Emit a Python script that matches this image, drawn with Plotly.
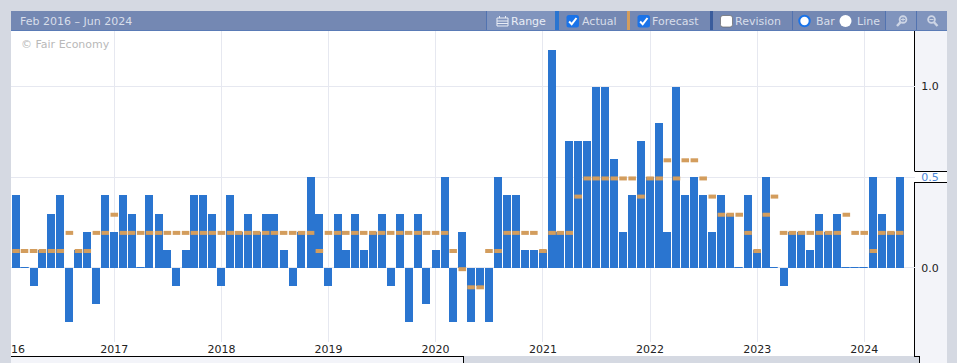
import pandas as pd
import plotly.graph_objects as go

W, H = 957, 363
L, R, T, B = 11, 915, 31, 342

months = [d.strftime("%Y-%m-%d") for d in pd.date_range("2016-02-01", "2024-05-01", freq="MS")]
actual = [
    .4, 0, -.1, .1, .3, .4, -.3, .1, .2, -.2, .4,
    .2, .4, .3, 0, .4, .3, .1, -.1, .1, .4, .4, .3,
    -.1, .4, .2, .3, .2, .3, .3, .1, -.1, .2, .5, .3,
    -.1, .3, .1, .3, .1, .2, .3, -.1, .3, -.3, .3, -.2,
    .1, .5, -.3, .2, -.3, -.1, -.3, .5, .4, .4, .1, .1,
    .1, 1.2, .2, .7, .7, .7, 1.0, 1.0, .6, .2, .4, .7,
    .5, .8, .2, 1.0, .4, .5, .4, .2, .4, .3, 0, .4,
    .1, .5, 0, -.1, .2, .2, .1, .3, .2, .3, 0, 0,
    0, .5, .3, .2, .5,
]
forecast = [
    .1, .1, .1, .1, .1, .1, .2, .1, .1, .2, .2,
    .3, .2, .2, .2, .2, .2, .2, .2, .2, .2, .2, .2,
    .2, .2, .2, .2, .2, .2, .2, .2, .2, .2, .2, .1,
    .2, .2, .2, .2, .2, .2, .2, .2, .2, .2, .2, .2,
    .2, .2, .1, 0, -.1, -.1, .1, .1, .2, .2, .2, .2,
    .1, .2, .2, .2, .4, .5, .5, .5, .5, .5, .5, .4,
    .5, .5, .6, .5, .6, .6, .5, .4, .3, .3, .3, .2,
    .1, .3, .4, .2, .2, .2, .2, .2, .2, .2, .3, .2,
    .2, .1, .2, .2, .2,
]
y_ticks = [0, 0.5, 1.0]
y_labels = ["0.0", '<span style="color:#4a86d8">0.5</span>', "1.0"]

BAR = "#2a75d0"
FC = "#d39d5d"
GRAY = "#d5d9e2"
PANEL = "#f3f4f9"
HEAD = "#7488b3"
HEAD2 = "#8094bd"
SEP = "#5273b0"
TXT = "#d8deea"
ICON = "#cdd5e5"
FONT = "DejaVu Sans"


def px(x):
    return (x - L) / (R - L)


def py(y):
    return (B - y) / (B - T)


shapes = []
annotations = []


def rect(x0, y0, x1, y1, fill, layer="below"):
    shapes.append(dict(type="rect", xref="paper", yref="paper", x0=px(x0), x1=px(x1),
                       y0=py(y1), y1=py(y0), fillcolor=fill, line_width=0, layer=layer))


def line(x0, y0, x1, y1, color="#000000", width=1, layer="below"):
    shapes.append(dict(type="line", xref="paper", yref="paper", x0=px(x0), x1=px(x1),
                       y0=py(y0), y1=py(y1), line=dict(color=color, width=width), layer=layer))


def circle(cx, cy, r, fill, edge=None, width=0):
    shapes.append(dict(type="circle", xref="paper", yref="paper", x0=px(cx - r), x1=px(cx + r),
                       y0=py(cy + r), y1=py(cy - r), fillcolor=fill,
                       line=dict(color=edge or fill, width=width), layer="above"))


def path(points, color=None, width=0, fill=None, closed=False):
    d = "M " + " L ".join(f"{px(a):.5f},{py(b):.5f}" for a, b in points) + (" Z" if closed else "")
    shapes.append(dict(type="path", xref="paper", yref="paper", path=d,
                       fillcolor=fill or "rgba(0,0,0,0)",
                       line=dict(color=color or "rgba(0,0,0,0)", width=width), layer="above"))


def rrect(x0, y0, x1, y1, r, fill, edge=None, width=0):
    def P(a, b):
        return f"{px(a):.5f},{py(b):.5f}"
    d = (f"M {P(x0 + r, y0)} L {P(x1 - r, y0)} Q {P(x1, y0)} {P(x1, y0 + r)} "
         f"L {P(x1, y1 - r)} Q {P(x1, y1)} {P(x1 - r, y1)} L {P(x0 + r, y1)} "
         f"Q {P(x0, y1)} {P(x0, y1 - r)} L {P(x0, y0 + r)} Q {P(x0, y0)} {P(x0 + r, y0)} Z")
    shapes.append(dict(type="path", xref="paper", yref="paper", path=d, fillcolor=fill,
                       line=dict(color=edge or fill, width=width), layer="above"))


def text(x, y, s, color, size=11, anchor="left"):
    annotations.append(dict(xref="paper", yref="paper", x=px(x), y=py(y), text=s, showarrow=False,
                            xanchor=anchor, yanchor="middle", borderpad=0, borderwidth=0,
                            font=dict(family=FONT, size=size, color=color)))


# page furniture
rect(L, B, R, 356, "#ffffff")
rect(R, T, 947, 356, PANEL)
rect(R, 171, 947, 182, "#ffffff")
rect(11, 356, 463, 363, PANEL)
rect(919, 356, 947, 363, PANEL)
line(914.5, 31, 914.5, 171)
line(914.5, 182, 914.5, 356)
line(914.5, 171.5, 947, 171.5)
line(914.5, 182.5, 947, 182.5)
line(11, 356.5, 463.5, 356.5)
line(463.5, 356, 463.5, 363)
line(914, 356.5, 919.5, 356.5)
line(919.5, 356, 919.5, 363)

# header strip
rect(11, 11, 947, 31, HEAD)
rect(487, 11, 555, 30, HEAD2)
rect(885, 11, 947, 30, HEAD2)
rect(11, 30, 947, 31, "#5a7bb6")
rect(555, 11, 559, 30, BAR)
rect(627, 11, 630, 30, FC)
rect(710, 11, 713, 30, "#3a5c9c")
for sep in (486.5, 792.5, 885.5, 916.5):
    line(sep, 11, sep, 30, SEP)

text(20, 21, "Feb 2016 – Jun 2024", TXT, 11)
text(21, 44.5, "© Fair Economy", "#b9b9b9", 11)
text(511, 21.5, "Range", "#e9edf5", 11)
text(581.5, 21.5, "Actual", TXT, 11)
text(652, 21.5, "Forecast", TXT, 11)
text(735, 21.5, "Revision", TXT, 11)
text(816, 21.5, "Bar", TXT, 11)
text(857, 21.5, "Line", TXT, 11)
text(11, 349.5, "16", "#222222", 11)

# calendar icon
path([(497, 18), (508, 18), (508, 26), (497, 26)], "#e9edf5", 1, closed=True)
line(497, 21, 508, 21, "#e9edf5", 1, "above")
line(497, 23.5, 508, 23.5, "#e9edf5", 1, "above")
line(499.5, 16, 499.5, 18, "#e9edf5", 1, "above")
line(505.5, 16, 505.5, 18, "#e9edf5", 1, "above")

# check boxes
for x0 in (566.5, 637.5):
    rrect(x0, 15, x0 + 12.5, 27.5, 2.5, "#1a73e8")
    path([(x0 + 2.6, 21.5), (x0 + 5.2, 24.2), (x0 + 10, 18)], "#ffffff", 2)
rrect(720.5, 15.5, 732.5, 27, 2.5, "#ffffff", "#666666", 0.7)

# radio buttons
circle(804.5, 21, 5.2, "#ffffff", "#1a73e8", 2)
circle(845.5, 21, 6, "#ffffff")

# magnifiers
circle(903, 19.5, 3.4, HEAD2, ICON, 1.8)
line(900.6, 22.2, 897, 26, ICON, 2.4, "above")
line(901, 19.5, 905, 19.5, ICON, 1, "above")
line(903, 17.5, 903, 21.5, ICON, 1, "above")
circle(931.5, 19.5, 3.4, HEAD2, ICON, 1.8)
line(934, 22.2, 937.5, 26, ICON, 2.4, "above")
line(929.5, 19.5, 933.5, 19.5, ICON, 1, "above")

fig = go.Figure()
fig.add_bar(x=months, y=actual, width=2.355e9, marker=dict(
    color=BAR, line=dict(color=BAR, width=[1 if v == 0 else 0 for v in actual])), name="Actual")
fig.add_scatter(x=months, y=forecast, mode="markers", yaxis="y2", name="Forecast",
                marker=dict(symbol="line-ew", size=5.4, line=dict(color=FC, width=4)))

y_span = (-0.408, 1.306)
shift = 0.0066
grid = "#e6e8f0"
fig.update_layout(
    width=W, height=H, autosize=False, showlegend=False, bargap=0,
    margin=dict(l=L, r=W - R, t=T, b=H - B, pad=0, autoexpand=False),
    paper_bgcolor=GRAY, plot_bgcolor="#ffffff",
    font=dict(family=FONT, size=11, color="#222222"),
    shapes=shapes, annotations=annotations,
    xaxis=dict(type="date", range=["2016-01-15", "2024-06-22"], tick0="2016-01-01", dtick="M12",
               tickformat="%Y", showgrid=True, gridcolor=grid, gridwidth=1, zeroline=False,
               showline=False, ticks="", ticklabelstandoff=-1,
               tickfont=dict(family=FONT, size=11, color="#222222")),
    yaxis=dict(range=list(y_span), side="right", tickvals=y_ticks, ticktext=y_labels,
               showgrid=True, gridcolor=grid, gridwidth=1, zeroline=False, showline=False,
               ticks="outside", ticklen=3, tickcolor="rgba(0,0,0,0)",
               tickfont=dict(family=FONT, size=11, color="#222222")),
    yaxis2=dict(range=[y_span[0] + shift, y_span[1] + shift], overlaying="y", visible=False),
)
fig.write_html("out.html", config=dict(displayModeBar=False),
               post_script="document.body.style.margin='0';document.documentElement.style.overflow='hidden';")
